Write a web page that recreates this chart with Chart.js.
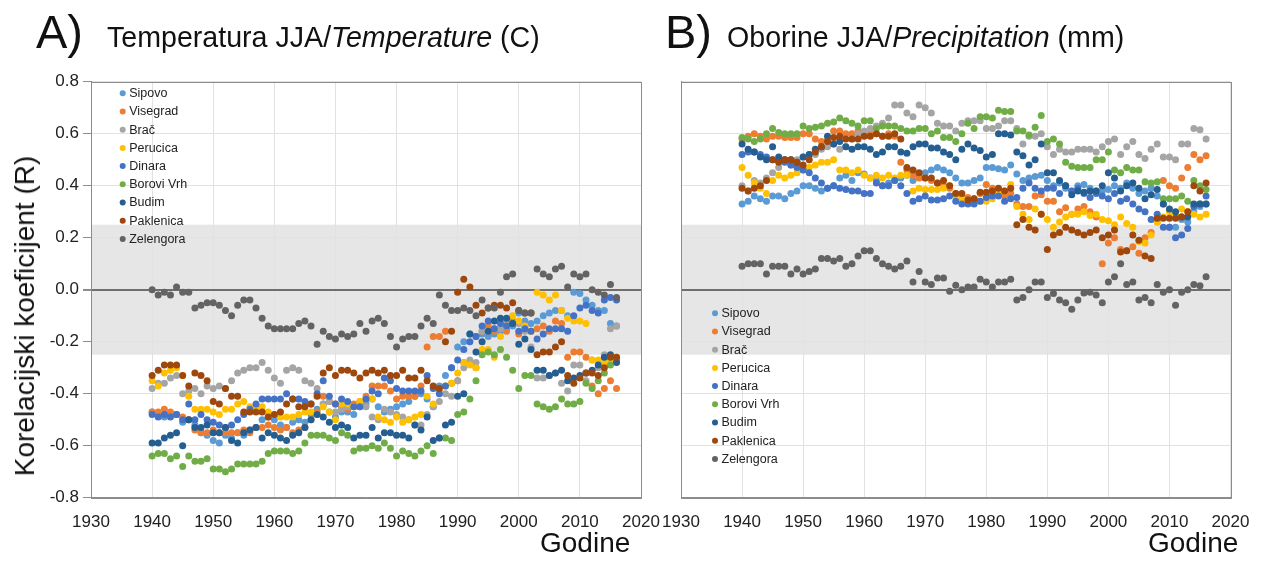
<!DOCTYPE html>
<html>
<head>
<meta charset="utf-8">
<script src="https://cdn.jsdelivr.net/npm/chart.js@4.4.1/dist/chart.umd.min.js"></script>
<style>
  body { margin: 0; background: #fff; width: 1269px; height: 561px; overflow: hidden; position: relative;
         font-family: "Liberation Sans", Arial, sans-serif; color: #111; }
  .txt { position: absolute; white-space: nowrap; line-height: 1; }
  #wrapA { position: absolute; left: 0; top: 0; }
  #wrapB { position: absolute; left: 660px; top: 0; }
</style>
</head>
<body>
<div id="wrapA"><canvas id="chartA" width="665" height="561"></canvas></div>
<div id="wrapB"><canvas id="chartB" width="609" height="561"></canvas></div>

<div class="txt" style="left:36px; top:8px; font-size:47px;">A)</div>
<div class="txt" style="left:107px; top:23px; font-size:28.6px;">Temperatura JJA/<i>Temperature</i> (C)</div>
<div class="txt" style="left:665px; top:8px; font-size:47px;">B)</div>
<div class="txt" style="left:727px; top:23px; font-size:28.6px;">Oborine JJA/<i>Precipitation</i> (mm)</div>
<div class="txt" style="left:25px; top:316px; font-size:28px; transform: translate(-50%, -50%) rotate(-90deg);">Korelacijski koeficijent (R)</div>
<div class="txt" style="left:540px; top:529px; font-size:28px;">Godine</div>
<div class="txt" style="left:1148px; top:529px; font-size:28px;">Godine</div>

<script>
const years = [
    1940, 1941, 1942, 1943, 1944, 1945, 1946, 1947, 1948, 1949,
    1950, 1951, 1952, 1953, 1954, 1955, 1956, 1957, 1958, 1959,
    1960, 1961, 1962, 1963, 1964, 1965, 1966, 1967, 1968, 1969,
    1970, 1971, 1972, 1973, 1974, 1975, 1976, 1977, 1978, 1979,
    1980, 1981, 1982, 1983, 1984, 1985, 1986, 1987, 1988, 1989,
    1990, 1991, 1992, 1993, 1994, 1995, 1996, 1997, 1998, 1999,
    2000, 2001, 2002, 2003, 2004, 2005, 2006, 2007, 2008, 2009,
    2010, 2011, 2012, 2013, 2014, 2015, 2016
];

const stations = ['Sipovo', 'Visegrad', 'Brač', 'Perucica', 'Dinara', 'Borovi Vrh', 'Budim', 'Paklenica', 'Zelengora'];

// A) temperatura
const tSipovo = [
    -0.47, -0.48, -0.49, -0.48, -0.48, -0.51, -0.50, -0.52, -0.55, -0.56,
    -0.58, -0.59, -0.56, -0.57, -0.55, -0.56, -0.54, -0.53, -0.50, -0.49,
    -0.50, -0.52, -0.53, -0.51, -0.50, -0.51, -0.48, -0.46, -0.44, -0.47,
    -0.49, -0.47, -0.47, -0.48, -0.45, -0.44, -0.42, -0.45, -0.47, -0.46,
    -0.45, -0.44, -0.43, -0.41, -0.40, -0.42, -0.45, -0.37, -0.33, -0.30,
    -0.22, -0.20, -0.17, -0.18, -0.17, -0.18, -0.17, -0.16, -0.15, -0.14,
    -0.09, -0.12, -0.13, -0.12, -0.10, -0.09, -0.08, -0.08, -0.10, -0.01,
    -0.015, -0.04, -0.06, -0.08, -0.08, -0.13, -0.14
];
const tVisegrad = [
    -0.47, -0.47, -0.46, -0.47, -0.48, -0.49, -0.50, -0.54, -0.55, -0.55,
    -0.54, -0.55, -0.55, -0.55, -0.55, -0.54, -0.55, -0.53, -0.53, -0.52,
    -0.53, -0.54, -0.53, -0.55, -0.54, -0.53, -0.50, -0.47, -0.41, -0.43,
    -0.44, -0.45, -0.46, -0.44, -0.43, -0.41, -0.37, -0.37, -0.37, -0.39,
    -0.42, -0.41, -0.41, -0.41, -0.37, -0.22, -0.18, -0.18, -0.16, -0.36,
    -0.35, -0.28, -0.28, -0.30, -0.16, -0.14, -0.16, -0.15, -0.16, -0.12,
    -0.17, -0.14, -0.16, -0.15, -0.14, -0.16, -0.12, -0.13, -0.26, -0.24,
    -0.24, -0.26, -0.37, -0.40, -0.38, -0.35, -0.38
];
const tBrac = [
    -0.38, -0.36, -0.36, -0.34, -0.33, -0.40, -0.39, -0.38, -0.40, -0.37,
    -0.38, -0.37, -0.38, -0.35, -0.32, -0.31, -0.30, -0.30, -0.28, -0.31,
    -0.34, -0.36, -0.31, -0.30, -0.31, -0.35, -0.36, -0.38, -0.44, -0.43,
    -0.47, -0.46, -0.45, -0.45, -0.44, -0.45, -0.49, -0.50, -0.46, -0.47,
    -0.48, -0.49, -0.50, -0.52, -0.52, -0.48, -0.45, -0.43, -0.40, -0.41,
    -0.35, -0.30, -0.27, -0.28, -0.16, -0.16, -0.15, -0.15, -0.12, -0.13,
    -0.13, -0.16, -0.22, -0.34, -0.34, -0.33, -0.32, -0.36, -0.39, -0.29,
    -0.29, -0.35, -0.27, -0.30, -0.25, -0.15, -0.14
];
const tPerucica = [
    -0.35, -0.37, -0.32, -0.31, -0.30, -0.33, -0.41, -0.46, -0.46, -0.46,
    -0.47, -0.48, -0.46, -0.46, -0.44, -0.43, -0.45, -0.45, -0.45, -0.47,
    -0.48, -0.49, -0.49, -0.49, -0.48, -0.47, -0.47, -0.48, -0.45, -0.47,
    -0.50, -0.44, -0.44, -0.45, -0.43, -0.42, -0.42, -0.49, -0.50, -0.51,
    -0.49, -0.51, -0.50, -0.49, -0.48, -0.41, -0.44, -0.39, -0.37, -0.36,
    -0.32, -0.28, -0.29, -0.30, -0.23, -0.23, -0.26, -0.18, -0.14, -0.10,
    -0.12, -0.14, -0.16, -0.01, -0.02, -0.04, -0.02, -0.08, -0.11, -0.12,
    -0.12, -0.13, -0.27, -0.27, -0.28, -0.27, -0.26
];
const tDinara = [
    -0.48, -0.49, -0.48, -0.49, -0.48, -0.50, -0.44, -0.50, -0.48, -0.50,
    -0.51, -0.52, -0.53, -0.52, -0.50, -0.48, -0.46, -0.44, -0.42, -0.42,
    -0.42, -0.42, -0.40, -0.42, -0.42, -0.43, -0.44, -0.40, -0.35, -0.41,
    -0.44, -0.42, -0.43, -0.45, -0.45, -0.42, -0.39, -0.40, -0.34, -0.35,
    -0.38, -0.39, -0.39, -0.39, -0.39, -0.33, -0.38, -0.40, -0.37, -0.30,
    -0.27, -0.23, -0.20, -0.18, -0.14, -0.12, -0.15, -0.13, -0.14, -0.13,
    -0.16, -0.15, -0.16, -0.19, -0.17, -0.15, -0.15, -0.15, -0.16, -0.10,
    -0.07, -0.06, -0.08, -0.09, -0.04, -0.03, -0.04
];
const tBorovi = [
    -0.64, -0.63, -0.63, -0.65, -0.64, -0.68, -0.64, -0.66, -0.66, -0.65,
    -0.69, -0.69, -0.70, -0.69, -0.67, -0.67, -0.67, -0.67, -0.66, -0.63,
    -0.62, -0.62, -0.62, -0.63, -0.62, -0.59, -0.56, -0.56, -0.56, -0.57,
    -0.58, -0.55, -0.56, -0.62, -0.61, -0.61, -0.60, -0.61, -0.59, -0.61,
    -0.64, -0.62, -0.63, -0.64, -0.62, -0.60, -0.63, -0.57, -0.57, -0.58,
    -0.48, -0.47, -0.42, -0.35, -0.25, -0.24, -0.25, -0.23, -0.26, -0.31,
    -0.38, -0.33, -0.33, -0.44, -0.45, -0.46, -0.45, -0.42, -0.44, -0.44,
    -0.43, -0.36, -0.38, -0.35, -0.32, -0.29, -0.27
];
const tBudim = [
    -0.59, -0.59, -0.57, -0.56, -0.55, -0.60, -0.50, -0.53, -0.53, -0.52,
    -0.55, -0.55, -0.53, -0.58, -0.59, -0.55, -0.54, -0.53, -0.57, -0.55,
    -0.56, -0.57, -0.58, -0.56, -0.55, -0.53, -0.50, -0.48, -0.49, -0.51,
    -0.53, -0.52, -0.53, -0.57, -0.56, -0.56, -0.53, -0.57, -0.55, -0.55,
    -0.56, -0.56, -0.57, -0.52, -0.54, -0.49, -0.58, -0.57, -0.52, -0.51,
    -0.41, -0.40, -0.17, -0.24, -0.20, -0.16, -0.12, -0.11, -0.11, -0.13,
    -0.21, -0.19, -0.23, -0.31, -0.31, -0.33, -0.32, -0.31, -0.35, -0.34,
    -0.33, -0.32, -0.31, -0.29, -0.26, -0.25, -0.28
];
const tPaklenica = [
    -0.33, -0.31, -0.29, -0.29, -0.29, -0.33, -0.37, -0.32, -0.33, -0.35,
    -0.43, -0.44, -0.38, -0.41, -0.41, -0.47, -0.47, -0.47, -0.47, -0.49,
    -0.48, -0.47, -0.44, -0.42, -0.45, -0.45, -0.44, -0.41, -0.32, -0.30,
    -0.33, -0.31, -0.31, -0.32, -0.34, -0.32, -0.31, -0.32, -0.31, -0.33,
    -0.33, -0.31, -0.34, -0.34, -0.31, -0.35, -0.37, -0.38, -0.20, -0.16,
    -0.01, 0.04, 0.01, -0.06, -0.09, -0.07, -0.06, -0.06, -0.07, -0.05,
    -0.08, -0.09, -0.09, -0.25, -0.24, -0.24, -0.22, -0.20, -0.33, -0.36,
    -0.34, -0.32, -0.32, -0.33, -0.30, -0.26, -0.26
];
const tZelengora = [
    0.00, -0.02, -0.01, -0.02, 0.01, -0.01, -0.01, -0.07, -0.06, -0.05,
    -0.05, -0.06, -0.08, -0.10, -0.06, -0.04, -0.04, -0.07, -0.11, -0.14,
    -0.15, -0.15, -0.15, -0.15, -0.13, -0.12, -0.14, -0.21, -0.16, -0.18,
    -0.19, -0.17, -0.18, -0.17, -0.13, -0.16, -0.12, -0.11, -0.13, -0.18,
    -0.22, -0.19, -0.18, -0.18, -0.14, -0.11, -0.13, -0.02, -0.06, -0.08,
    -0.08, -0.07, -0.08, -0.10, -0.04, -0.07, -0.07, -0.01, 0.05, 0.06,
    -0.08, -0.09, -0.09, 0.08, 0.06, 0.05, 0.08, 0.09, 0.01, 0.06,
    0.05, 0.06, 0.00, -0.01, -0.02, 0.02, -0.03
];

// B) oborine
const pSipovo = [
    0.33, 0.34, 0.36, 0.35, 0.34, 0.36, 0.36, 0.35, 0.37, 0.38,
    0.40, 0.40, 0.39, 0.38, 0.39, 0.40, 0.43, 0.44, 0.42, 0.45,
    0.445, 0.43, 0.42, 0.40, 0.41, 0.42, 0.43, 0.44, 0.42, 0.44,
    0.45, 0.46, 0.47, 0.46, 0.45, 0.43, 0.41, 0.41, 0.42, 0.43,
    0.47, 0.47, 0.465, 0.46, 0.48, 0.445, 0.42, 0.43, 0.435, 0.44,
    0.42, 0.40, 0.41, 0.39, 0.38, 0.40, 0.405, 0.39, 0.38, 0.38,
    0.385, 0.40, 0.39, 0.41, 0.39, 0.37, 0.38, 0.39, 0.36, 0.33,
    0.24, 0.24, 0.27, 0.26, 0.30, 0.32, 0.33
];
const pVisegrad = [
    0.58, 0.59, 0.60, 0.59, 0.58, 0.59, 0.59, 0.585, 0.585, 0.585,
    0.60, 0.60, 0.58, 0.57, 0.575, 0.61, 0.61, 0.60, 0.60, 0.61,
    0.60, 0.60, 0.60, 0.59, 0.60, 0.59, 0.49, 0.46, 0.44, 0.43,
    0.43, 0.42, 0.41, 0.40, 0.39, 0.37, 0.36, 0.355, 0.35, 0.37,
    0.405, 0.39, 0.37, 0.36, 0.37, 0.33, 0.32, 0.32, 0.36, 0.365,
    0.34, 0.34, 0.30, 0.315, 0.29, 0.31, 0.32, 0.30, 0.28, 0.10,
    0.18, 0.20, 0.155, 0.15, 0.165, 0.14, 0.20, 0.22, 0.26, 0.42,
    0.40, 0.39, 0.43, 0.47, 0.52, 0.50, 0.515
];
const pBrac = [
    0.40, 0.38, 0.42, 0.41, 0.43, 0.45, 0.47, 0.50, 0.48, 0.50,
    0.51, 0.52, 0.52, 0.54, 0.55, 0.56, 0.54, 0.55, 0.58, 0.60,
    0.61, 0.62, 0.63, 0.64, 0.66, 0.71, 0.71, 0.68, 0.665, 0.71,
    0.70, 0.68, 0.64, 0.63, 0.63, 0.61, 0.64, 0.65, 0.65, 0.65,
    0.62, 0.62, 0.63, 0.65, 0.65, 0.62, 0.56, 0.59, 0.59, 0.60,
    0.55, 0.52, 0.54, 0.53, 0.53, 0.54, 0.54, 0.54, 0.53, 0.55,
    0.57, 0.58, 0.52, 0.55, 0.57, 0.52, 0.505, 0.54, 0.56, 0.51,
    0.51, 0.50, 0.56, 0.56, 0.62, 0.615, 0.58
];
const pPerucica = [
    0.47, 0.44, 0.41, 0.39, 0.37, 0.42, 0.44, 0.43, 0.44, 0.45,
    0.46, 0.47, 0.48, 0.49, 0.49, 0.50, 0.46, 0.46, 0.45, 0.46,
    0.44, 0.43, 0.44, 0.43, 0.44, 0.43, 0.44, 0.44, 0.38, 0.39,
    0.385, 0.385, 0.385, 0.39, 0.40, 0.36, 0.35, 0.34, 0.35, 0.34,
    0.34, 0.35, 0.37, 0.38, 0.405, 0.32, 0.29, 0.27, 0.31, 0.29,
    0.27, 0.24, 0.26, 0.28, 0.29, 0.29, 0.30, 0.285, 0.29, 0.27,
    0.265, 0.25, 0.28, 0.255, 0.24, 0.185, 0.18, 0.21, 0.26, 0.28,
    0.30, 0.29, 0.31, 0.30, 0.29, 0.28, 0.29
];
const pDinara = [
    0.52, 0.53, 0.53, 0.52, 0.51, 0.50, 0.495, 0.49, 0.48, 0.47,
    0.46, 0.45, 0.43, 0.41, 0.39, 0.40, 0.39, 0.385, 0.38, 0.38,
    0.37, 0.37, 0.41, 0.40, 0.40, 0.42, 0.40, 0.37, 0.34, 0.35,
    0.36, 0.345, 0.345, 0.35, 0.36, 0.34, 0.33, 0.33, 0.33, 0.34,
    0.355, 0.36, 0.36, 0.34, 0.35, 0.355, 0.39, 0.41, 0.39, 0.38,
    0.39, 0.39, 0.37, 0.40, 0.38, 0.39, 0.37, 0.355, 0.37, 0.36,
    0.35, 0.37, 0.34, 0.35, 0.33, 0.31, 0.30, 0.27, 0.29, 0.24,
    0.24, 0.20, 0.21, 0.235, 0.32, 0.33, 0.36
];
const pBorovi = [
    0.585, 0.58, 0.57, 0.58, 0.60, 0.62, 0.605, 0.60, 0.60, 0.60,
    0.63, 0.62, 0.625, 0.63, 0.64, 0.645, 0.66, 0.65, 0.64, 0.63,
    0.65, 0.65, 0.62, 0.63, 0.63, 0.63, 0.62, 0.61, 0.61, 0.62,
    0.62, 0.60, 0.61, 0.585, 0.585, 0.57, 0.60, 0.64, 0.62, 0.665,
    0.665, 0.66, 0.69, 0.685, 0.685, 0.61, 0.61, 0.595, 0.625, 0.67,
    0.57, 0.58, 0.56, 0.49, 0.475, 0.47, 0.47, 0.47, 0.50, 0.50,
    0.53, 0.46, 0.45, 0.47, 0.46, 0.46, 0.415, 0.41, 0.415, 0.35,
    0.35, 0.35, 0.36, 0.34, 0.42, 0.40, 0.385
];
const pBudim = [
    0.56, 0.54, 0.53, 0.51, 0.50, 0.55, 0.51, 0.50, 0.50, 0.49,
    0.51, 0.52, 0.54, 0.55, 0.59, 0.56, 0.57, 0.55, 0.54, 0.55,
    0.55, 0.54, 0.52, 0.53, 0.55, 0.55, 0.53, 0.525, 0.55, 0.56,
    0.56, 0.545, 0.545, 0.53, 0.52, 0.50, 0.54, 0.56, 0.545, 0.535,
    0.51, 0.52, 0.60, 0.60, 0.595, 0.53, 0.515, 0.48, 0.50, 0.56,
    0.45, 0.45, 0.42, 0.40, 0.365, 0.38, 0.375, 0.38, 0.38, 0.40,
    0.45, 0.43, 0.38, 0.40, 0.41, 0.39, 0.35, 0.365, 0.385, 0.33,
    0.31, 0.30, 0.28, 0.28, 0.33, 0.33, 0.33
];
const pPaklenica = [
    0.39, 0.38, 0.39, 0.40, 0.42, 0.50, 0.49, 0.50, 0.50, 0.49,
    0.48, 0.50, 0.53, 0.55, 0.57, 0.585, 0.59, 0.58, 0.58, 0.58,
    0.59, 0.59, 0.60, 0.59, 0.59, 0.60, 0.58, 0.47, 0.46, 0.45,
    0.43, 0.43, 0.41, 0.42, 0.40, 0.37, 0.37, 0.345, 0.35, 0.375,
    0.375, 0.38, 0.39, 0.38, 0.39, 0.25, 0.27, 0.24, 0.23, 0.29,
    0.155, 0.21, 0.22, 0.24, 0.23, 0.22, 0.21, 0.22, 0.23, 0.20,
    0.21, 0.23, 0.145, 0.15, 0.21, 0.19, 0.13, 0.12, 0.275, 0.275,
    0.275, 0.275, 0.28, 0.30, 0.40, 0.38, 0.41
];
const pZelengora = [
    0.09, 0.10, 0.10, 0.10, 0.06, 0.09, 0.09, 0.09, 0.06, 0.08,
    0.06, 0.07, 0.08, 0.12, 0.12, 0.11, 0.12, 0.09, 0.10, 0.13,
    0.15, 0.15, 0.12, 0.10, 0.09, 0.08, 0.09, 0.11, 0.03, 0.07,
    0.03, 0.02, 0.045, 0.045, -0.006, 0.017, 0.00, 0.01, 0.01, 0.04,
    0.03, 0.01, 0.03, 0.03, 0.04, -0.04, -0.03, 0.00, 0.03, 0.03,
    -0.03, -0.015, -0.04, -0.05, -0.075, -0.04, -0.013, -0.01, -0.02, -0.05,
    0.03, 0.05, 0.10, 0.02, 0.03, -0.04, -0.03, -0.05, 0.02, -0.01,
    0.00, -0.06, -0.01, 0.00, 0.02, 0.015, 0.05
];

const colors = ['#5B9BD5', '#ED7D31', '#A5A5A5', '#FFC000', '#4472C4', '#70AD47', '#255E91', '#9E480E', '#636363'];

const tempSeries = [tSipovo, tVisegrad, tBrac, tPerucica, tDinara, tBorovi, tBudim, tPaklenica, tZelengora];
const precSeries = [pSipovo, pVisegrad, pBrac, pPerucica, pDinara, pBorovi, pBudim, pPaklenica, pZelengora];

function makeDatasets(series) {
    return series.map((vals, i) => ({
        label: stations[i],
        data: vals.map((v, j) => ({ x: years[j], y: v })),
        backgroundColor: colors[i],
        borderWidth: 0,
        pointRadius: 3.5,
        order: series.length - i
    }));
}

// siva traka, okvir i legenda
const decorPlugin = {
    id: 'decor',
    beforeDraw(chart) {
        const { ctx, chartArea: a, scales: { y } } = chart;
        const top = y.getPixelForValue(0.25);
        const bottom = y.getPixelForValue(-0.25);
        ctx.save();
        ctx.fillStyle = '#e6e6e6';
        ctx.fillRect(a.left, top, a.right - a.left, bottom - top);
        ctx.restore();
    },
    afterDraw(chart, args, opts) {
        const { ctx, chartArea: a } = chart;
        ctx.save();
        ctx.strokeStyle = '#8c8c8c';
        ctx.lineWidth = 1;
        ctx.strokeRect(Math.round(a.left) + 0.5, Math.round(a.top) + 0.5,
            Math.round(a.right - a.left), Math.round(a.bottom - a.top));
        ctx.font = '12.5px "Liberation Sans", Arial, sans-serif';
        ctx.textBaseline = 'middle';
        chart.data.datasets.forEach((ds, i) => {
            const yy = opts.y + i * 18.2;
            ctx.fillStyle = ds.backgroundColor;
            ctx.beginPath();
            ctx.arc(opts.x, yy, 3, 0, Math.PI * 2);
            ctx.fill();
            ctx.fillStyle = '#222';
            ctx.fillText(ds.label, opts.x + 6.5, yy + 0.5);
        });
        ctx.restore();
    }
};

function makeConfig(series, showY, padRight, yWidth, legendPos) {
    return {
        type: 'scatter',
        data: { datasets: makeDatasets(series) },
        options: {
            responsive: false,
            animation: false,
            layout: { padding: { left: 0, right: padRight, top: 81.7, bottom: 0 } },
            plugins: {
                legend: { display: false },
                tooltip: { enabled: false },
                decor: legendPos
            },
            scales: {
                x: {
                    type: 'linear',
                    min: 1930,
                    max: 2020,
                    ticks: {
                        stepSize: 10,
                        padding: 0,
                        color: '#222',
                        font: { size: 17, family: '"Liberation Sans", Arial, sans-serif' },
                        callback: v => String(v)
                    },
                    grid: { color: '#e2e2e2', drawTicks: true, tickLength: 14, tickColor: 'rgba(0,0,0,0)' },
                    border: { color: '#8c8c8c' },
                    afterFit: s => { s.height = 63.3; }
                },
                y: {
                    min: -0.8,
                    max: 0.8,
                    ticks: {
                        display: showY,
                        stepSize: 0.2,
                        padding: 4,
                        color: '#222',
                        font: { size: 17, family: '"Liberation Sans", Arial, sans-serif' },
                        callback: v => v.toFixed(1)
                    },
                    grid: {
                        color: c => (c.tick && Math.abs(c.tick.value) < 1e-9) ? '#6e6e6e' : '#e2e2e2',
                        lineWidth: c => (c.tick && Math.abs(c.tick.value) < 1e-9) ? 2 : 1,
                        drawTicks: showY,
                        tickLength: 8,
                        tickColor: '#8c8c8c'
                    },
                    border: { color: '#8c8c8c' },
                    afterFit: s => { s.width = yWidth; }
                }
            }
        },
        plugins: [decorPlugin]
    };
}

const chartA = new Chart(
    document.querySelector('#chartA'),
    makeConfig(tempSeries, true, 24, 91, { x: 122.7, y: 93.3 })
);

const chartB = new Chart(
    document.querySelector('#chartB'),
    makeConfig(precSeries, false, 38.5, 21, { x: 55, y: 313.3 })
);
</script>
</body>
</html>
